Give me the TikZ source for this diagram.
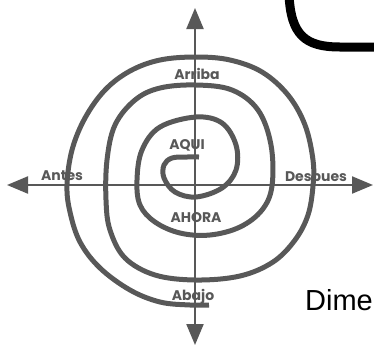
\documentclass[tikz,border=0pt]{standalone}
\usepackage{fontspec}
\setmainfont{Poppins}
\newfontfamily\dimefont{Liberation Sans}
\usetikzlibrary{arrows.meta}
\definecolor{axisgray}{RGB}{88,88,88}

\begin{document}
\begin{tikzpicture}[x=1pt, y=-1pt,
  every node/.style={font=\fontsize{14}{16}\selectfont\bfseries, text=axisgray, inner sep=0pt, anchor=base},
  axis/.style={line width=2.2pt, draw=axisgray, {Triangle[length=21pt,width=17pt]}-{Triangle[length=21pt,width=17pt]}},
  spiral/.style={line width=5pt, draw=axisgray}]
\useasboundingbox (0,0) rectangle (374,346);

% Axes
\coordinate (top) at (195,8);
\coordinate (bottom) at (195,345);
\coordinate (left) at (7,185);
\coordinate (right) at (373,185);
\draw[axis] (bottom) -- (top);
\draw[axis] (left) -- (right);

% Spiral, from the outer end inwards
\draw[spiral] plot[smooth, tension=0.6] coordinates {
  (209,305) (190,305) (160,302) (130,290) (100,268) (80,242) (70,212) (67,185)
  (72,150) (85,118) (105,90) (130,71) (160,60) (196,57) (230,60) (262,72)
  (288,95) (305,125) (313,160) (313,186) (308,215) (295,240) (273,262)
  (240,276) (196,280) (155,275) (125,258) (110,230) (106,200) (107,160)
  (115,125) (135,100) (160,88) (196,85) (232,90) (258,110) (271,145)
  (272,186) (262,210) (240,227) (210,235) (180,233) (155,222) (140,205)
  (137,180) (142,150) (160,127) (196,117) (222,123) (236,145) (236,170)
  (222,188) (196,197) (175,192) (164,178) (164,165) (172,158) (187,157) (199,157)};

% Labels
\node (arriba) at (197,79) {Arriba};
\node (aqui) at (187,149) {AQUI};
\node (antes) at (62,180) {Antes};
\node (despues) at (316,181) {Despues};
\node (ahora) at (196,222) {AHORA};
\node (abajo) at (193,300) {Abajo};

% Cut-off pieces at the right
\draw[line width=9pt, black] (289,-5) .. controls (291,35) and (305,47) .. (340,47) -- (380,47);
\node[font=\dimefont\fontsize{29}{32}\selectfont, text=black, anchor=base west] (dime) at (305,310) {Dime};
\end{tikzpicture}
\end{document}
